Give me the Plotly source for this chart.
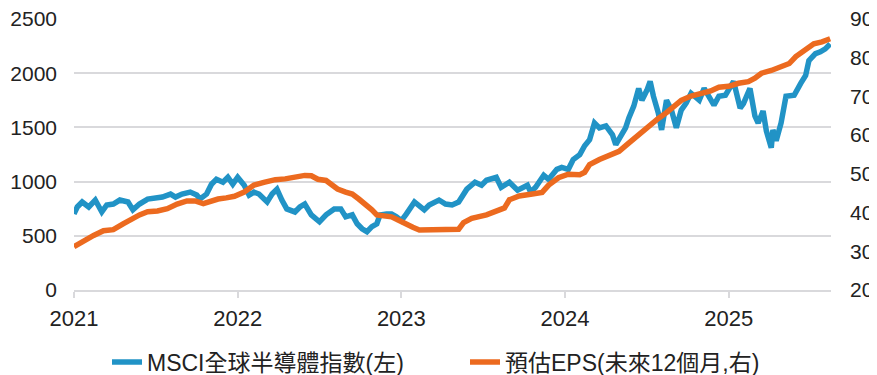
import plotly.graph_objects as go

# ---- data (time in decimal years) ----
msci_t = [2021.00, 2021.02, 2021.05, 2021.09, 2021.13, 2021.17, 2021.20, 2021.24, 2021.28, 2021.33,
          2021.36, 2021.40, 2021.45, 2021.51, 2021.54, 2021.59, 2021.62, 2021.66, 2021.71, 2021.75,
          2021.77, 2021.81, 2021.84, 2021.87, 2021.91, 2021.94, 2021.97, 2022.00, 2022.02, 2022.04,
          2022.07, 2022.10, 2022.13, 2022.18, 2022.21, 2022.24, 2022.27, 2022.30, 2022.35, 2022.38,
          2022.41, 2022.45, 2022.50, 2022.54, 2022.59, 2022.63, 2022.66, 2022.70, 2022.73, 2022.76,
          2022.79, 2022.82, 2022.85, 2022.87, 2022.91, 2022.94, 2022.97, 2023.00, 2023.03, 2023.08,
          2023.14, 2023.17, 2023.23, 2023.27, 2023.31, 2023.35, 2023.40, 2023.45, 2023.49, 2023.52,
          2023.58, 2023.61, 2023.66, 2023.71, 2023.77, 2023.79, 2023.82, 2023.87, 2023.90, 2023.95,
          2023.98, 2024.02, 2024.05, 2024.09, 2024.12, 2024.15, 2024.18, 2024.21, 2024.25, 2024.29,
          2024.31, 2024.34, 2024.37, 2024.39, 2024.42, 2024.45, 2024.47, 2024.50, 2024.52, 2024.54,
          2024.57, 2024.59, 2024.62, 2024.65, 2024.68, 2024.71, 2024.74, 2024.77, 2024.82, 2024.85,
          2024.88, 2024.91, 2024.94, 2024.98, 2025.03, 2025.07, 2025.09, 2025.13, 2025.16, 2025.18,
          2025.21, 2025.23, 2025.26, 2025.27, 2025.29, 2025.32, 2025.35, 2025.40, 2025.44, 2025.47,
          2025.49, 2025.53, 2025.56, 2025.59, 2025.62]
msci_v = [702, 766, 812, 766, 830, 720, 784, 793, 830, 812,
          739, 793, 839, 857, 857, 885, 857, 885, 903, 876,
          839, 885, 976, 1021, 994, 1040, 976, 1040, 1012, 967,
          876, 903, 885, 812, 885, 930, 830, 748, 720, 766,
          793, 693, 629, 693, 748, 748, 675, 693, 611, 565,
          538, 584, 611, 693, 702, 702, 675, 640, 700, 812,
          739, 784, 830, 793, 784, 812, 930, 994, 967, 1012,
          1040, 948, 994, 921, 967, 903, 948, 1058, 1021, 1113,
          1131, 1113, 1204, 1249, 1331, 1386, 1541, 1496, 1514, 1432,
          1340, 1432, 1496, 1587, 1696, 1860, 1751, 1842, 1924, 1788,
          1632, 1477, 1751, 1660, 1496, 1660, 1724, 1815, 1751, 1860,
          1769, 1705, 1788, 1797, 1924, 1678, 1720, 1860, 1605, 1541,
          1651, 1468, 1313, 1477, 1377, 1541, 1788, 1797, 1906, 1979,
          2116, 2180, 2198, 2225, 2271]

eps_t = [2021.00, 2021.05, 2021.12, 2021.18, 2021.24, 2021.30, 2021.35, 2021.40, 2021.45, 2021.51,
         2021.57, 2021.63, 2021.69, 2021.74, 2021.79, 2021.83, 2021.88, 2021.93, 2021.98, 2022.04,
         2022.10, 2022.16, 2022.23, 2022.29, 2022.35, 2022.41, 2022.45, 2022.49, 2022.54, 2022.58,
         2022.61, 2022.66, 2022.70, 2022.74, 2022.79, 2022.82, 2022.85, 2022.90, 2022.94, 2022.98,
         2023.01, 2023.07, 2023.11, 2023.19, 2023.27, 2023.35, 2023.38, 2023.43, 2023.52, 2023.60,
         2023.63, 2023.66, 2023.72, 2023.80, 2023.86, 2023.90, 2023.96, 2024.02, 2024.09, 2024.12,
         2024.15, 2024.21, 2024.27, 2024.33, 2024.38, 2024.45, 2024.51, 2024.57, 2024.62, 2024.67,
         2024.71, 2024.77, 2024.84, 2024.89, 2024.94, 2025.00, 2025.06, 2025.12, 2025.16, 2025.20,
         2025.26, 2025.32, 2025.37, 2025.41, 2025.47, 2025.52, 2025.57, 2025.62]
eps_v = [31.2, 32.5, 34.1, 35.3, 35.6, 37.1, 38.4, 39.4, 40.2, 40.4,
         41.0, 42.2, 43.0, 43.0, 42.3, 43.0, 43.5, 43.8, 44.2, 45.3,
         47.1, 47.8, 48.5, 48.7, 49.1, 49.6, 49.5, 48.6, 48.3, 47.1,
         46.1, 45.3, 44.8, 43.5, 42.0, 40.7, 39.4, 39.2, 38.9, 38.1,
         37.4, 36.2, 35.5, 35.6, 35.7, 35.7, 37.4, 38.5, 39.4, 40.5,
         41.2, 43.3, 44.3, 44.8, 45.2, 47.1, 49.0, 49.9, 49.8, 50.4,
         52.4, 53.7, 54.7, 55.8, 57.6, 60.1, 62.4, 64.3, 65.8, 67.7,
         69.0, 70.1, 70.8, 71.4, 72.4, 72.6, 73.4, 73.8, 74.7, 76.0,
         76.7, 77.7, 78.5, 80.3, 82.3, 83.6, 84.1, 84.9]

x_ticks = [2021, 2022, 2023, 2024, 2025]
left_ticks = [0, 500, 1000, 1500, 2000, 2500]
right_ticks = [20, 30, 40, 50, 60, 70, 80, 90]

name_msci = "MSCI全球半導體指數(左)"
name_eps = "預估EPS(未來12個月,右)"

BLUE = "#2193C6"
ORANGE = "#EC6A1F"
GRID = "#D9D9DC"
FONT = "Liberation Sans, Arial, Noto Sans CJK TC, sans-serif"

# the page body adds an 8px margin, so the figure is 8px smaller each way
W, H = 869, 367

fig = go.Figure()
fig.add_trace(go.Scatter(x=msci_t, y=msci_v, name=name_msci, mode="lines",
                         line=dict(color=BLUE, width=5.5), yaxis="y"))
fig.add_trace(go.Scatter(x=eps_t, y=eps_v, name=name_eps, mode="lines",
                         line=dict(color=ORANGE, width=5.5), yaxis="y2"))

fig.update_layout(
    width=W, height=H,
    margin=dict(l=66, r=46, t=11, b=85, autoexpand=False),
    paper_bgcolor="white", plot_bgcolor="white",
    font=dict(family=FONT, size=22, color="#222222"),
    showlegend=True,
    legend=dict(orientation="h", xref="container", x=99 / W, xanchor="left",
                yref="container", y=1 - 354 / H, yanchor="middle",
                font=dict(size=23), entrywidth=313, entrywidthmode="pixels",
                bgcolor="rgba(0,0,0,0)"),
    xaxis=dict(range=[2021, 2025.625], tickvals=x_ticks, ticktext=[str(v) for v in x_ticks],
               showgrid=False, zeroline=False, automargin=False,
               showline=True, linecolor=GRID, linewidth=2,
               ticks="outside", ticklen=6, tickcolor=GRID, tickwidth=2,
               ticklabelstandoff=2),
    yaxis=dict(range=[0, 2500], tickvals=left_ticks, showgrid=True, gridcolor=GRID, gridwidth=2,
               zeroline=False, showline=False, ticks="", ticklabelstandoff=16, automargin=False,
               ticklabeloverflow="allow", tickfont=dict(size=21)),
    yaxis2=dict(range=[20, 90], tickvals=right_ticks, overlaying="y", side="right",
                showgrid=False, zeroline=False, showline=False, ticks="",
                ticklabelstandoff=18, automargin=False, ticklabeloverflow="allow",
                tickfont=dict(size=21)),
)

fig.write_html("out.html")
